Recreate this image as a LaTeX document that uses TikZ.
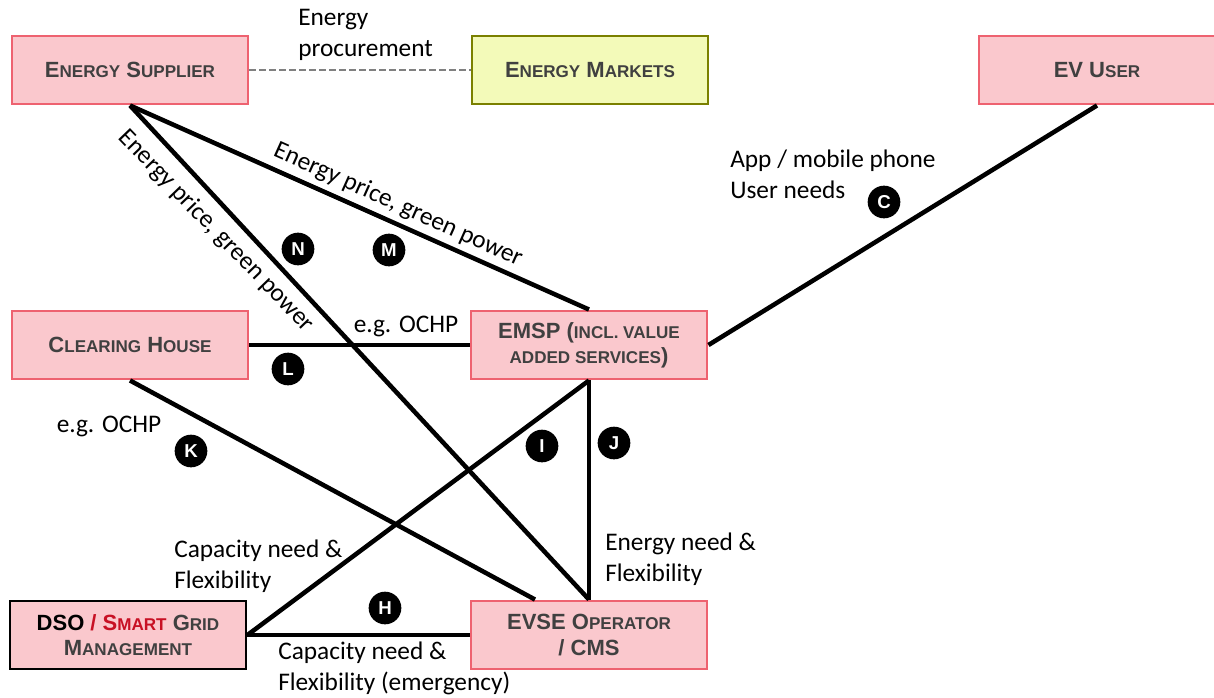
\documentclass[tikz,border=0pt]{standalone}
\usepackage{fontspec}
\setmainfont{Carlito}
\newfontfamily\boxfont{Liberation Sans}
\usetikzlibrary{calc}

% small caps made by hand
\newcommand{\lc}[1]{{\fontsize{12.8}{19}\selectfont #1}}

\tikzset{
  actor/.style={draw=boxred, fill=boxpink, line width=2.2pt, minimum width=177pt,
    minimum height=51pt, align=center, text=boxgrey,
    font=\boxfont\bfseries\fontsize{16.5}{19}\selectfont},
  link/.style={line width=3.4pt, black},
  badge/.style={circle, fill=black, text=white, inner sep=0pt, minimum size=24.5pt,
    font=\boxfont\bfseries\fontsize{14}{14}\selectfont},
  note/.style={align=left, anchor=north west, inner sep=0pt,
    font=\fontsize{19}{23}\selectfont},
  tag/.style={inner sep=1pt, font=\fontsize{19}{23}\selectfont}
}

\begin{document}
\begin{tikzpicture}[x=0.75pt, y=-0.75pt]
  \definecolor{boxpink}{RGB}{250,200,205}
  \definecolor{boxred}{RGB}{238,98,112}
  \definecolor{boxgrey}{RGB}{64,64,64}
  \definecolor{marketfill}{RGB}{243,250,185}
  \definecolor{marketolive}{RGB}{122,128,0}
  \definecolor{dsored}{RGB}{200,16,36}
  \useasboundingbox (0, 0) rectangle (1214, 697);

  % draw boxes
  \node [actor] (supplier) at (130, 70) {E\lc{NERGY} S\lc{UPPLIER}};
  \node [actor, draw=marketolive, fill=marketfill] (markets) at (590, 70) {E\lc{NERGY} M\lc{ARKETS}};
  \node [actor] (evuser) at (1097, 70) {EV U\lc{SER}};
  \node [actor] (clearing) at (130, 345) {C\lc{LEARING} H\lc{OUSE}};
  \node [actor] (emsp) at (589, 345) {EMSP (\lc{INCL. VALUE}\\\lc{ADDED SERVICES})};
  \node [actor, draw=black] (dso) at (128, 635) {\textcolor{black}{DSO} \textcolor{dsored}{/ S\lc{MART}} G\lc{RID}\\M\lc{ANAGEMENT}};
  \node [actor] (evse) at (589, 635) {EVSE O\lc{PERATOR}\\/ CMS};

  % draw links
  \draw [gray, dash pattern=on 5pt off 2.5pt, line width=1.5pt] (supplier) -- (markets);
  \draw [link] (supplier.south) -- (emsp.north);
  \draw [link] (supplier.south) -- (evse.north);
  \draw [link] (clearing) -- (emsp);
  \draw [link] (clearing.south) -- ($(evse.north)+(-54, 0)$);
  \draw [link] (emsp.south) -- (dso.east);
  \draw [link] (emsp.south) -- (evse.north);
  \draw [link] (dso) -- (evse);
  \draw [link] (evuser.south) -- (emsp.east);

  % draw texts
  \node [note] (procure) at (298, 9) {Energy\\procurement};
  \node [note] (app) at (730, 150) {App / mobile phone\\User needs};
  \node [tag, rotate=-24.2] (priceM) at (398, 205) {Energy price, green power};
  \node [tag, rotate=-46] (priceN) at (216, 231) {Energy price, green power};
  \node [tag] (ochpL) at (406, 326) {e.g. OCHP};
  \node [tag] (ochpK) at (109, 426) {e.g. OCHP};
  \node [note] (capI) at (174, 540) {Capacity need \&\\Flexibility};
  \node [note] (needJ) at (605, 533) {Energy need \&\\Flexibility};
  \node [note] (capH) at (278, 642) {Capacity need \&\\Flexibility (emergency)};

  % draw badges
  \node [badge] (bC) at (884, 202) {C};
  \node [badge] (bM) at (389, 250) {M};
  \node [badge] (bN) at (298, 249) {N};
  \node [badge] (bL) at (288, 369) {L};
  \node [badge] (bK) at (191, 451) {K};
  \node [badge] (bI) at (542, 446) {I};
  \node [badge] (bJ) at (614, 443) {J};
  \node [badge] (bH) at (385, 608) {H};
\end{tikzpicture}
\end{document}
